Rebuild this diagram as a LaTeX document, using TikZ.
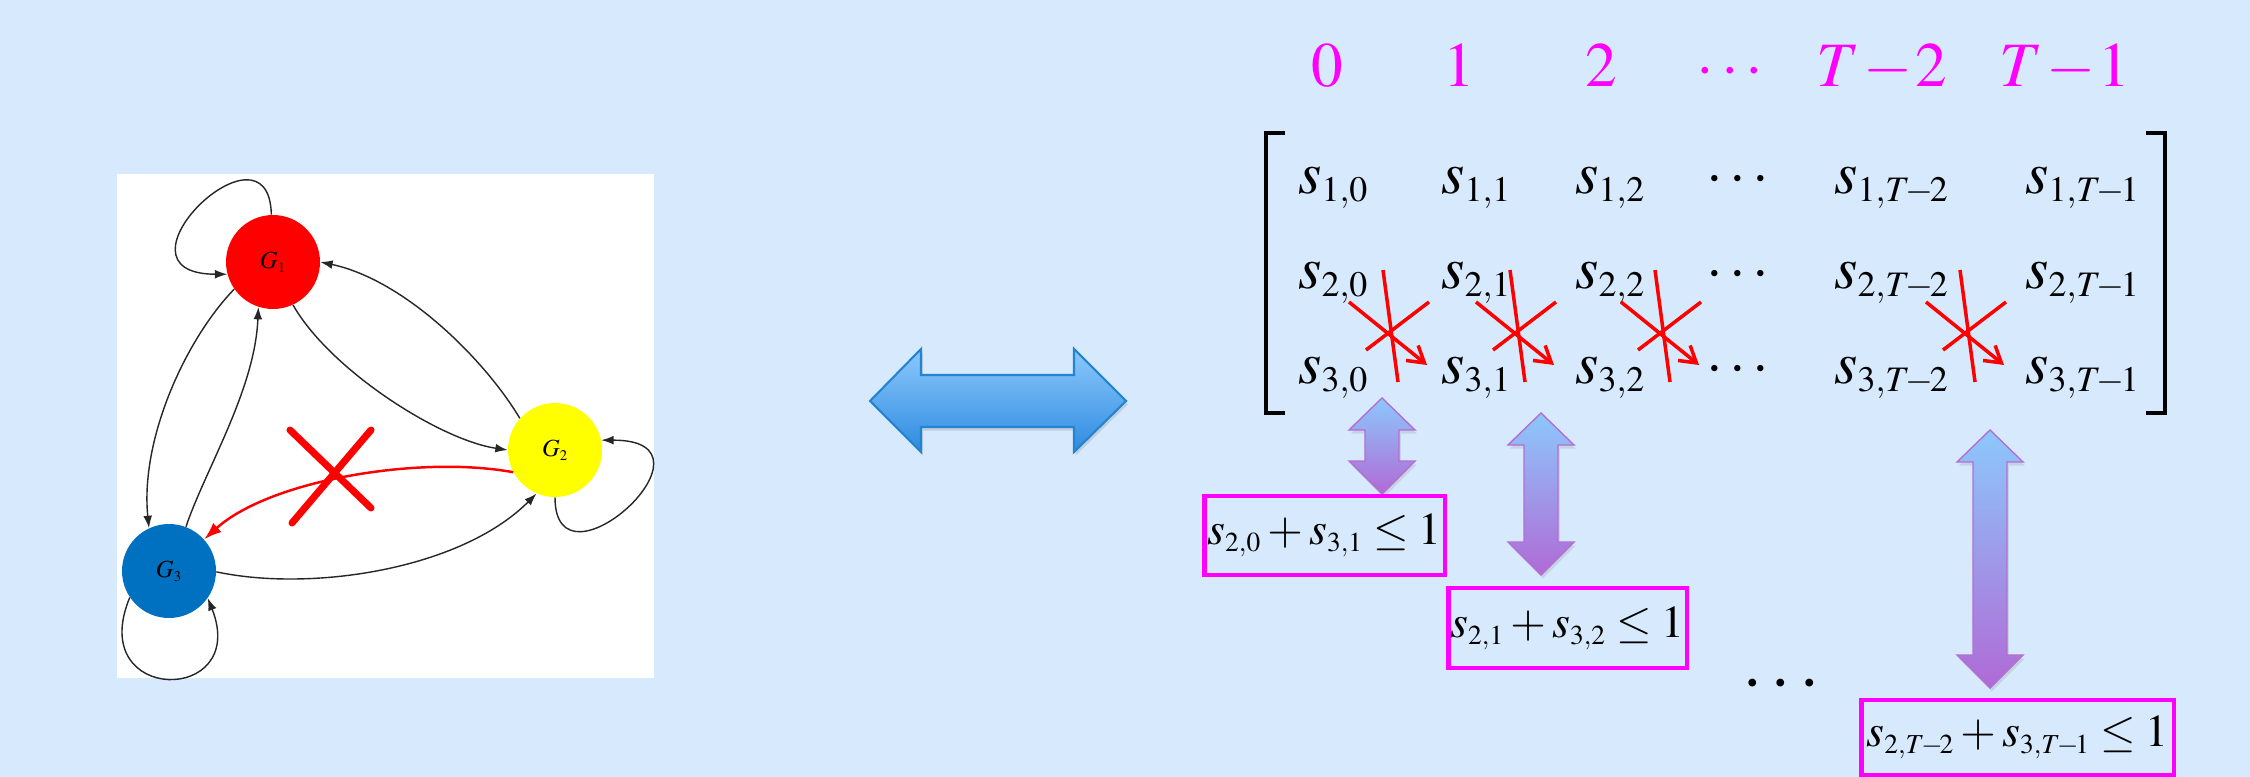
\documentclass[tikz,border=0pt]{standalone}
\usepackage{mathptmx}
\usepackage{tikz}
\usetikzlibrary{arrows.meta,shadows}
\renewcommand\defaultscriptratio{.6}
\definecolor{bgblue}{HTML}{D7E9FD}
\definecolor{gred}{HTML}{FF0000}
\definecolor{gyellow}{HTML}{FFFF00}
\definecolor{gblue}{HTML}{0070C0}
\definecolor{hotpink}{HTML}{FF00FF}
\definecolor{arrowtop}{HTML}{8CC8FC}
\definecolor{arrowbot}{HTML}{2E8BE0}
\definecolor{arrowedge}{HTML}{2385D0}
\definecolor{lilac}{HTML}{B06AD6}
\definecolor{lilacedge}{HTML}{B46ED2}
\newcommand{\tm}{\mkern-2mu-\mkern-2mu}

\begin{document}
\begin{tikzpicture}[x=0.02cm, y=-0.02cm,
    state/.style={circle, minimum size=1.88cm, inner sep=0pt, font=\fontsize{14}{16}\selectfont},
    link/.style={black!85, line width=0.8pt, -{Latex[length=7pt,width=5pt]}},
    entry/.style={anchor=base west, inner sep=0pt, font=\fontsize{34}{40}\selectfont},
    colnum/.style={anchor=base, inner sep=0pt, text=hotpink, font=\fontsize{36}{42}\selectfont},
    cbox/.style={draw=hotpink, line width=2.8pt, inner sep=0pt, font=\fontsize{26}{30}\selectfont},
    bracket/.style={line width=2.3pt},
    strike/.style={gred, line width=2pt},
    shade blue/.style={top color=arrowtop, bottom color=arrowbot, draw=arrowedge, line width=1.2pt,
                       drop shadow={shadow xshift=1pt, shadow yshift=-2pt, opacity=0.25}},
    shade lilac/.style={top color=arrowtop, bottom color=lilac, draw=lilacedge, line width=0.8pt,
                        drop shadow={shadow xshift=1pt, shadow yshift=-2pt, opacity=0.2}}
]
    % background and frame
    \fill[bgblue] (0,0) rectangle (2250,777);
    \useasboundingbox (0,0) rectangle (2250,777);
    \fill[white] (117,174) rectangle (654,678);

    % graph
    \node[state, fill=gred]    (G1) at (273,262) {$G_1$};
    \node[state, fill=gyellow] (G2) at (555,450) {$G_2$};
    \node[state, fill=gblue]   (G3) at (169,571) {$G_3$};

    \draw[link] (G1.92) .. controls (269,110) and (100,274) .. (G1.195);
    \draw[link] (G2.south) .. controls (555,600) and (731,440) .. (G2.12);
    \draw[link] (G3.214) .. controls (85,705) and (250,705) .. (G3.325);
    \draw[link] (G1.215) .. controls (185,340) and (140,440) .. (G3.115);
    \draw[link] (G3.69) .. controls (205,470) and (255,390) .. (G1.252);
    \draw[link] (G1.295) .. controls (330,370) and (440,440) .. (G2.180);
    \draw[link] (G2.138) .. controls (485,360) and (405,280) .. (G1.0);
    \draw[link] (G3.-1) .. controls (310,592) and (460,570) .. (G2.247);
    \draw[gred, line width=1.4pt, -{Latex[length=10pt,width=7pt]}]
        (G2.208) .. controls (420,455) and (270,480) .. (G3.42);

    % removed edge
    \draw[gred, line width=4pt, line cap=round] (292,523) -- (371,430);
    \draw[gred, line width=4pt, line cap=round] (290,430) -- (371,508);

    % equivalence arrow
    \draw[shade blue] (870,401) -- (921,349) -- (921,375) -- (1074,375) -- (1074,349)
        -- (1126,401) -- (1074,452) -- (1074,427) -- (921,427) -- (921,452) -- cycle;

    % time steps
    \foreach \x/\lab [count=\i] in {1327/0, 1459/1, 1601/2, 1730/\cdots, 1882/T\mkern-1.5mu-\mkern-1.5mu2, 2065/T\mkern-1.5mu-\mkern-1.5mu1}
        \node[colnum] (t\i) at (\x,87) {$\lab$};

    % matrix
    \draw[bracket] (1285,133) -- (1266,133) -- (1266,413) -- (1285,413);
    \draw[bracket] (2146,133) -- (2165,133) -- (2165,413) -- (2146,413);
    \foreach \x/\c/\sub in {1298/0/0, 1441/1/1, 1575/2/2, 1834/m/T\tm2, 2025/n/T\tm1}
        \foreach \r/\y in {1/193, 2/288, 3/383}
            \node[entry] (s\r\c) at (\x,\y) {$s_{\r,\sub}$};
    \foreach \r/\y in {1/193, 2/288, 3/383}
        \node[entry, anchor=base] (d\r) at (1738,\y) {$\cdots$};

    % forbidden transitions
    \foreach \cx in {1389, 1516, 1661, 1966} {
        \draw[strike] (\cx-6,270) -- (\cx+9,382);
        \draw[strike] (\cx+40,302) -- (\cx-23,350);
        \draw[strike, -{Straight Barb[length=9pt,width=11pt]}] (\cx-40,302) -- (\cx+38,365);
    }

    % constraint arrows
    \foreach \x/\ya/\yb in {1382/398/494, 1541/413/575, 1990/430/688}
        \draw[shade lilac] (\x,\ya) -- (\x+33,\ya+32) -- (\x+17,\ya+32) -- (\x+17,\yb-33)
            -- (\x+33,\yb-33) -- (\x,\yb) -- (\x-33,\yb-33) -- (\x-17,\yb-33)
            -- (\x-17,\ya+32) -- (\x-33,\ya+32) -- cycle;

    % constraints
    \node[cbox, minimum width=4.82cm, minimum height=1.58cm] (c1) at (1324.5,535.5) {$s_{2,0}+s_{3,1}\le 1$};
    \node[cbox, minimum width=4.78cm, minimum height=1.6cm] (c2) at (1567.5,628) {$s_{2,1}+s_{3,2}\le 1$};
    \node[cbox, minimum width=6.26cm, minimum height=1.5cm] (c3) at (2017.5,737.5) {$s_{2,T\tm2}+s_{3,T\tm1}\le 1$};
    \node[entry, anchor=base, font=\fontsize{42}{48}\selectfont] (gap) at (1781,701) {$\cdots$};
\end{tikzpicture}
\end{document}
